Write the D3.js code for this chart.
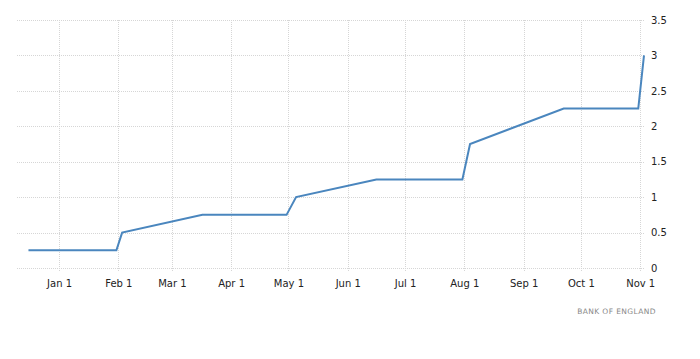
<!DOCTYPE html>
<html>
<head>
<meta charset="utf-8">
<script src="https://cdn.jsdelivr.net/npm/d3@7"></script>
<style>
  body { margin: 0; background: #fff; }
  svg text { font-family: "DejaVu Sans", Verdana, sans-serif; }
</style>
</head>
<body>
<div id="chart"></div>
<script>
// Bank of England bank rate, points where the line turns
var dates = ["2021-12-16", "2022-01-31", "2022-02-03", "2022-03-17", "2022-04-30",
             "2022-05-05", "2022-06-16", "2022-07-31", "2022-08-04", "2022-09-22",
             "2022-10-31", "2022-11-03"];
var rates = [0.25, 0.25, 0.5, 0.75, 0.75, 1, 1.25, 1.25, 1.75, 2.25, 2.25, 3];
var yTicks = [0, 0.5, 1, 1.5, 2, 2.5, 3, 3.5];
var xTicks = ["2022-01-01", "2022-02-01", "2022-03-01", "2022-04-01", "2022-05-01", "2022-06-01",
              "2022-07-01", "2022-08-01", "2022-09-01", "2022-10-01", "2022-11-01"];
var source = "BANK OF ENGLAND";

var width = 700, height = 359;
var parse = d3.utcParse("%Y-%m-%d");
var fmt = d3.utcFormat("%b %-d");

var data = dates.map(function(d, i) { return { date: parse(d), value: rates[i] }; });

var svg = d3.select("#chart").append("svg")
    .attr("width", width)
    .attr("height", height);

var x = d3.scaleUtc()
    .domain([parse("2021-12-10"), parse("2022-11-03")])
    .range([17, 644]);

var y = d3.scaleLinear()
    .domain([0, 3.5])
    .range([268, 20]);

// grid
var grid = svg.append("g");
grid.selectAll(".hg")
  .data(yTicks)
  .enter().append("line")
    .attr("x1", x.range()[0])
    .attr("x2", x.range()[1])
    .attr("y1", function(d) { return Math.round(y(d)) + 0.5; })
    .attr("y2", function(d) { return Math.round(y(d)) + 0.5; })
    .style("stroke", "#d6d6d6")
    .style("stroke-dasharray", "1,1");

grid.selectAll(".vg")
  .data(xTicks.map(parse))
  .enter().append("line")
    .attr("x1", function(d) { return Math.round(x(d)) + 0.5; })
    .attr("x2", function(d) { return Math.round(x(d)) + 0.5; })
    .attr("y1", 20)
    .attr("y2", 272)
    .style("stroke", "#d6d6d6")
    .style("stroke-dasharray", "1,1");

// x axis labels
var xAxis = d3.axisBottom(x)
    .tickValues(xTicks.map(parse))
    .tickFormat(fmt)
    .tickSize(0)
    .tickPadding(12);

svg.append("g")
    .attr("transform", "translate(0,268)")
    .call(xAxis)
    .call(function(g) { g.select(".domain").remove(); })
    .selectAll("text")
      .style("font-size", "10px")
      .style("fill", "#222");

// y axis on right
var yAxis = d3.axisRight(y)
    .tickValues(yTicks)
    .tickFormat(d3.format("~g"))
    .tickSize(0)
    .tickPadding(7);

svg.append("g")
    .attr("transform", "translate(644,0)")
    .call(yAxis)
    .call(function(g) { g.select(".domain").remove(); })
    .selectAll("text")
      .style("font-size", "10px")
      .style("fill", "#222");

// line
var line = d3.line()
    .x(function(d) { return x(d.date); })
    .y(function(d) { return y(d.value); });

svg.append("path")
    .datum(data)
    .attr("d", line)
    .style("fill", "none")
    .style("stroke", "#4a86be")
    .style("stroke-width", 2);

// source
svg.append("text")
    .attr("x", 656)
    .attr("y", 314)
    .attr("text-anchor", "end")
    .style("font-size", "7.5px")
    .style("letter-spacing", "0.4px")
    .style("fill", "#888")
    .text(source);
</script>
</body>
</html>
